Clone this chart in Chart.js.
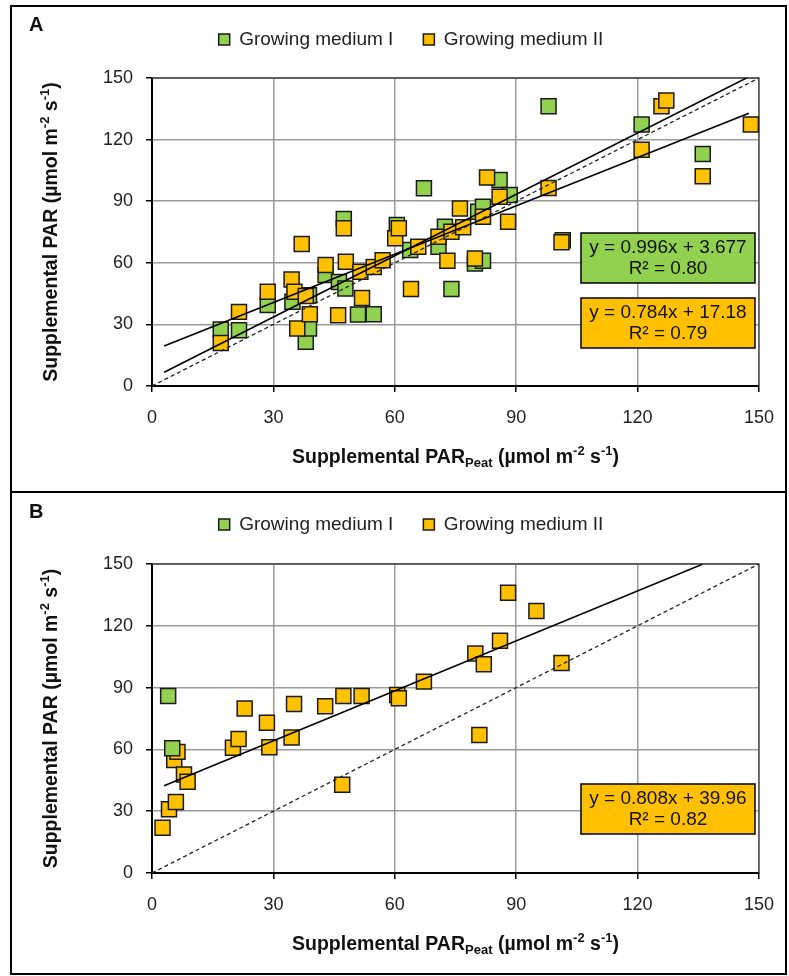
<!DOCTYPE html>
<html>
<head>
<meta charset="utf-8">
<script src="https://cdn.jsdelivr.net/npm/chart.js@4.4.1/dist/chart.umd.min.js"></script>
<style>
  body { margin: 0; background: #fff; width: 789px; height: 976px; position: relative; overflow: hidden; }
  canvas { position: absolute; left: 0; }
  .frame { position: absolute; left: 10px; width: 777px; border: 2px solid #000; box-sizing: border-box; pointer-events: none; }
</style>
</head>
<body>
<canvas id="chartA" width="789" height="491" style="top:0"></canvas>
<canvas id="chartB" width="789" height="491" style="top:485px"></canvas>
<div class="frame" style="top:5px;height:488px"></div>
<div class="frame" style="top:491px;height:484px"></div>

<script>
// axis range / ticks
const axisTicks = [0, 30, 60, 90, 120, 150];
const seriesNames = ['Growing medium I', 'Growing medium II'];
const seriesColors = ['#92D050', '#FFC000'];

// panel A points [PAR peat, PAR]
const panelA_medium1 = [
  [17, 27.5], [21.5, 27.2], [28.6, 39.4], [34.7, 41], [38.8, 44.2], [38, 21.5], [38.8, 28],
  [42.9, 54], [46.2, 50.7], [47.8, 47.5], [47.4, 81.3], [50.9, 34.8], [54.8, 35], [60.5, 78.4],
  [63.8, 66.2], [67.2, 96.3], [70.8, 67.8], [72.4, 77.6], [74, 47.2], [79.8, 59.7], [81.8, 61],
  [80.6, 84.9], [81.8, 87.3], [85.9, 100.3], [88.4, 93], [98, 136.3], [101.5, 71], [121, 127.3],
  [136.1, 113]
];
const panelA_medium2 = [
  [17, 21], [21.5, 36.1], [28.6, 45.9], [34.5, 51.9], [35.2, 45.9], [35.9, 28], [37, 69.1],
  [38, 43.8], [39, 35], [42.9, 58.9], [46, 34.5], [47.4, 76.8], [47.9, 60.5], [51.5, 55.6],
  [51.9, 42.9], [54.8, 58], [57, 61.3], [60.1, 71.9], [61, 76.8], [64, 47.2], [65.8, 67.8],
  [70.8, 72.7], [73, 61], [74, 75.1], [76.1, 86.5], [76.9, 77.3], [79.8, 62.1], [81.8, 82.4],
  [82.8, 101.5], [85.9, 92.2], [88, 80], [98, 96.4], [101.2, 70], [121, 115.1], [125.9, 136.3],
  [127.1, 139], [136.1, 102.1], [148, 127.3]
];

// panel B points
const panelB_medium1 = [[4, 85.9], [5, 60.5]];
const panelB_medium2 = [
  [2.6, 22], [4.2, 31], [5.9, 34.5], [5.5, 54.8], [6.3, 58.8], [7.9, 47.8], [8.8, 44.3],
  [20, 60.8], [21.4, 65], [22.9, 79.9], [28.4, 72.9], [29, 61], [34.5, 65.8], [35.1, 82],
  [42.8, 81], [47.3, 85.9], [51.8, 85.9], [47, 42.8], [60.6, 86.4], [61, 84.8], [67.2, 92.9],
  [79.9, 106.5], [82, 101.3], [86, 112.8], [88, 136.1], [95, 127.2], [101.2, 102], [80.9, 67]
];

// trendlines as printed on the chart: [slope, intercept]
const fitA1 = [0.996, 3.677];
const fitA2 = [0.784, 17.18];
const fitB2 = [0.808, 39.96];
const fitRangeA = [3, 147.5];
const fitRangeB = [3, 136];

const eqTextA = [['y = 0.996x + 3.677', 'R² = 0.80'], ['y = 0.784x + 17.18', 'R² = 0.79']];
const eqTextB = [['y = 0.808x + 39.96', 'R² = 0.82']];

const xTitleParts = [['Supplemental PAR'], ['Peat', 'sub'], [' (µmol m'], ['-2', 'sup'], [' s'], ['-1', 'sup'], [')']];
const yTitleParts = [['Supplemental PAR (µmol m'], ['-2', 'sup'], [' s'], ['-1', 'sup'], [')']];

const FONT = '"Liberation Sans", Arial, sans-serif';

function toPts(arr) {
  return arr.map(p => ({ x: p[0], y: p[1] }));
}

function fitLine(fit, range) {
  return range.map(x => ({ x: x, y: fit[0] * x + fit[1] }));
}

// draws text with sub/superscript pieces, centred on cx
function richText(ctx, parts, cx, cy, size) {
  const big = 'bold ' + size + 'px ' + FONT;
  const small = 'bold ' + Math.round(size * 0.67) + 'px ' + FONT;
  let w = 0;
  parts.forEach(p => { ctx.font = p[1] ? small : big; w += ctx.measureText(p[0]).width; });
  let x = cx - w / 2;
  ctx.textAlign = 'left';
  ctx.textBaseline = 'middle';
  parts.forEach(p => {
    ctx.font = p[1] ? small : big;
    let dy = 0;
    if (p[1] === 'sup') dy = -size * 0.33;
    if (p[1] === 'sub') dy = size * 0.3;
    ctx.fillText(p[0], x, cy + dy);
    x += ctx.measureText(p[0]).width;
  });
}

const decor = {
  id: 'decor',
  beforeDatasetsDraw(chart) {
    const ctx = chart.ctx, a = chart.chartArea;
    ctx.save();
    ctx.strokeStyle = '#444';
    ctx.lineWidth = 1.3;
    ctx.beginPath();
    ctx.moveTo(a.left, a.top);
    ctx.lineTo(a.right, a.top);
    ctx.lineTo(a.right, a.bottom);
    ctx.stroke();
    ctx.restore();
  },
  afterDraw(chart, args, o) {
    const ctx = chart.ctx, a = chart.chartArea;
    ctx.save();
    ctx.fillStyle = '#111';
    // panel letter
    ctx.font = 'bold 20px ' + FONT;
    ctx.textAlign = 'left';
    ctx.textBaseline = 'middle';
    ctx.fillText(o.letter, 29, o.letterY);

    // axis titles
    richText(ctx, xTitleParts, (a.left + a.right) / 2, a.bottom + 72, 19.5);
    ctx.save();
    ctx.translate(52, (a.top + a.bottom) / 2);
    ctx.rotate(-Math.PI / 2);
    richText(ctx, yTitleParts, 0, 0, 19.5);
    ctx.restore();

    // equation boxes
    o.boxes.forEach(b => {
      const w = 174, h = 50;
      const left = a.right - 4 - w, top = a.top + b.offset;
      ctx.fillStyle = b.color;
      ctx.fillRect(left, top, w, h);
      ctx.strokeStyle = '#000';
      ctx.lineWidth = 1.5;
      ctx.strokeRect(left, top, w, h);
      ctx.fillStyle = '#111';
      ctx.font = '19px ' + FONT;
      ctx.textAlign = 'center';
      ctx.textBaseline = 'middle';
      ctx.fillText(b.text[0], left + w / 2, top + 15);
      ctx.fillText(b.text[1], left + w / 2, top + 36);
    });
    ctx.restore();
  }
};

function makePanel(id, m1, m2, lines, opts) {
  const pointStyle = {
    pointStyle: 'rect',
    pointRadius: 10.6,
    borderColor: '#1a1a1a',
    borderWidth: 1.5,
    clip: false
  };
  const datasets = [
    Object.assign({ label: seriesNames[0], data: toPts(m1), backgroundColor: seriesColors[0], order: opts.greenOrder }, pointStyle),
    Object.assign({ label: seriesNames[1], data: toPts(m2), backgroundColor: seriesColors[1], order: opts.orangeOrder }, pointStyle)
  ];
  lines.forEach(l => {
    datasets.push({
      type: 'line',
      label: 'fit',
      data: l.data,
      borderColor: l.dash ? '#222' : '#000',
      borderWidth: l.dash ? 1.3 : 1.6,
      borderDash: l.dash ? [4, 3] : [],
      pointRadius: 0,
      showLine: true,
      fill: false,
      order: 0
    });
  });

  const tickFont = { family: FONT, size: 18 };
  const axis = (isX) => ({
    type: 'linear',
    min: axisTicks[0],
    max: axisTicks[axisTicks.length - 1],
    ticks: {
      stepSize: axisTicks[1] - axisTicks[0],
      font: tickFont,
      color: '#222',
      padding: isX ? 15 : 13
    },
    grid: { color: '#9a9a9a', lineWidth: 1.5, tickColor: '#000', tickLength: 6, tickWidth: 1.5 },
    border: { color: '#000', width: 2 },
    afterFit(scale) {
      if (isX) scale.height = 491 - opts.bottom;
      else scale.width = 92;
    }
  });

  return new Chart(document.getElementById(id), {
    type: 'scatter',
    data: { datasets: datasets },
    options: {
      responsive: false,
      animation: false,
      devicePixelRatio: 1,
      events: [],
      layout: { padding: { left: 60, right: 27, top: 0, bottom: 0 } },
      scales: { x: axis(true), y: axis(false) },
      plugins: {
        tooltip: { enabled: false },
        legend: {
          position: 'top',
          weight: 3000,
          labels: {
            font: { family: FONT, size: 19 },
            color: '#222',
            boxWidth: 11,
            boxHeight: 11,
            padding: 30,
            filter: item => item.datasetIndex < 2,
            sort: (a, b) => a.datasetIndex - b.datasetIndex
          }
        },
        subtitle: {
          display: true,
          text: ' ',
          font: { size: 1, lineHeight: 1 },
          padding: { top: 0, bottom: opts.gap }
        },
        decor: { letter: opts.letter, letterY: opts.letterY, boxes: opts.boxes }
      }
    },
    plugins: [decor]
  });
}

const identity = [{ x: 0, y: 0 }, { x: 150, y: 150 }];

makePanel('chartA', panelA_medium1, panelA_medium2, [
  { data: identity, dash: true },
  { data: fitLine(fitA1, fitRangeA) },
  { data: fitLine(fitA2, fitRangeA) }
], {
  letter: 'A', letterY: 25, bottom: 386, gap: 18, greenOrder: 2, orangeOrder: 1,
  boxes: [
    { text: eqTextA[0], color: seriesColors[0], offset: 155 },
    { text: eqTextA[1], color: seriesColors[1], offset: 220 }
  ]
});

makePanel('chartB', panelB_medium1, panelB_medium2, [
  { data: identity, dash: true },
  { data: fitLine(fitB2, fitRangeB) }
], {
  letter: 'B', letterY: 27, bottom: 388, gap: 19, greenOrder: 1, orangeOrder: 2,
  boxes: [
    { text: eqTextB[0], color: seriesColors[1], offset: 220 }
  ]
});
</script>
</body>
</html>
